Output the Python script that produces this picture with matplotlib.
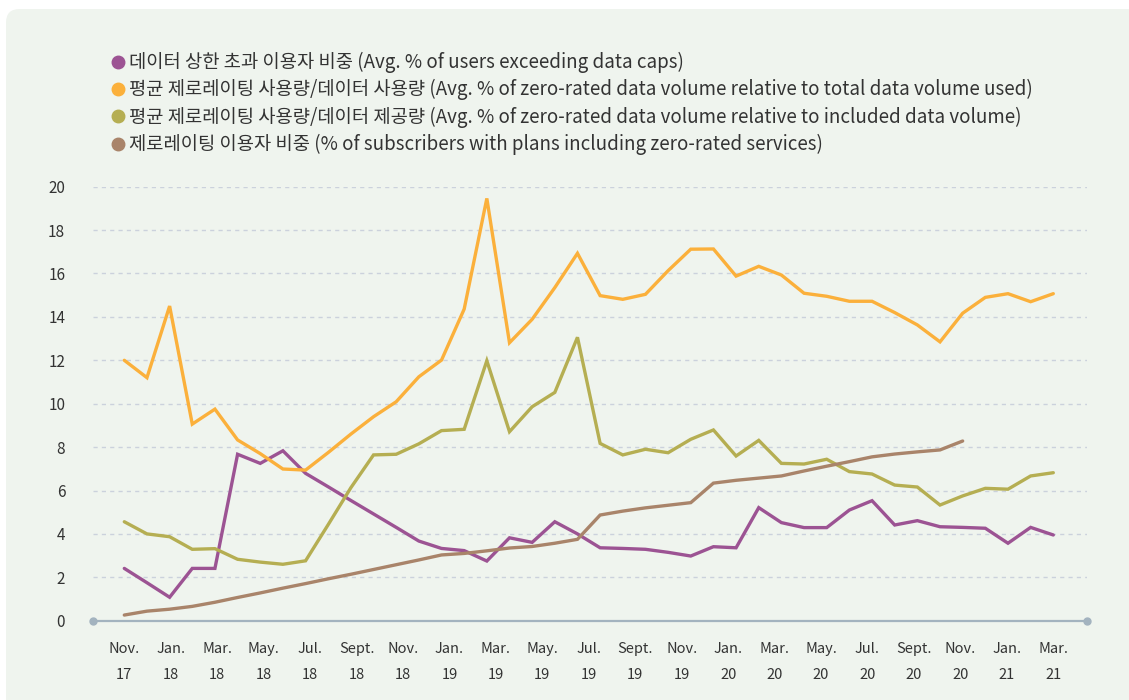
import numpy as np
import matplotlib
matplotlib.use("Agg")
import matplotlib.pyplot as plt
from matplotlib.lines import Line2D
from matplotlib.patches import FancyBboxPatch

# ---------------- data ----------------
x_labels = ["Nov.\n17", "Jan.\n18", "Mar.\n18", "May.\n18", "Jul.\n18", "Sept.\n18",
            "Nov.\n18", "Jan.\n19", "Mar.\n19", "May.\n19", "Jul.\n19", "Sept.\n19",
            "Nov.\n19", "Jan.\n20", "Mar.\n20", "May.\n20", "Jul.\n20", "Sept.\n20",
            "Nov.\n20", "Jan.\n21", "Mar.\n21"]

series_names = [
    "데이터 상한 초과 이용자 비중 (Avg. % of users exceeding data caps)",
    "평균 제로레이팅 사용량/데이터 사용량 (Avg. % of zero-rated data volume relative to total data volume used)",
    "평균 제로레이팅 사용량/데이터 제공량 (Avg. % of zero-rated data volume relative to included data volume)",
    "제로레이팅 이용자 비중 (% of subscribers with plans including zero-rated services)",
]

users_exceeding_caps = [2.41, 1.75, 1.08, 2.41, 2.41, 7.67, 7.25, 7.83, 6.79, 6.17,
                        5.54, 4.92, 4.30, 3.67, 3.33, 3.23, 2.75, 3.82, 3.61, 4.56,
                        4.00, 3.36, 3.33, 3.29, 3.15, 2.98, 3.41, 3.36, 5.21, 4.52,
                        4.29, 4.29, 5.10, 5.53, 4.41, 4.61, 4.33, 4.30, 4.26, 3.57,
                        4.30, 3.95]

zero_rated_vs_used = [12.0, 11.2, 14.5, 9.06, 9.75, 8.33, 7.7, 6.99, 6.94, 7.75,
                      8.6, 9.4, 10.09, 11.24, 12.01, 14.36, 19.46, 12.81, 13.89, 15.35,
                      16.93, 14.98, 14.81, 15.04, 16.13, 17.12, 17.13, 15.88, 16.33, 15.93,
                      15.09, 14.95, 14.72, 14.72, 14.2, 13.63, 12.85, 14.17, 14.9, 15.07,
                      14.7, 15.07]

zero_rated_vs_included = [4.56, 4.0, 3.87, 3.29, 3.32, 2.83, 2.70, 2.60, 2.76, 4.43,
                          6.13, 7.64, 7.67, 8.15, 8.76, 8.82, 11.98, 8.71, 9.86, 10.52,
                          13.06, 8.17, 7.64, 7.90, 7.74, 8.36, 8.79, 7.59, 8.31, 7.25,
                          7.22, 7.44, 6.87, 6.76, 6.25, 6.16, 5.33, 5.75, 6.10, 6.06,
                          6.67, 6.82]

zero_rated_subscribers = [0.26, 0.44, 0.53, 0.66, 0.85, 1.07, 1.28, 1.50, 1.71, 1.93,
                          2.14, 2.36, 2.58, 2.80, 3.03, 3.10, 3.22, 3.35, 3.42, 3.57,
                          3.75, 4.87, 5.05, 5.20, 5.32, 5.44, 6.34, 6.47, 6.57, 6.67,
                          6.90, 7.12, 7.33, 7.55, 7.68, 7.78, 7.87, 8.28]

y_ticks = [0, 2, 4, 6, 8, 10, 12, 14, 16, 18, 20]

colors = ["#9c5393", "#fbb03b", "#b5ae52", "#a9846a"]
panel_color = "#eff4ee"
text_color = "#333333"

plt.rcParams['font.family'] = ['Noto Sans CJK KR', 'DejaVu Sans']

# ---------------- figure ----------------
fig = plt.figure(figsize=(11.29, 7.0), dpi=100)
fig.patch.set_facecolor("white")
panel = FancyBboxPatch((6 / 1129, -0.05), 1.05, 1 - 9 / 700 + 0.05,
                       boxstyle="round,pad=0,rounding_size=0.012",
                       transform=fig.transFigure, facecolor=panel_color,
                       edgecolor="none", zorder=-10, mutation_aspect=1129 / 700)
fig.patches.append(panel)

ax = fig.add_axes([93 / 1129, 1 - 620.7 / 700, (1087 - 93) / 1129, (620.7 - 186.7) / 700])
ax.set_facecolor("none")
ax.set_zorder(1)

n = len(users_exceeding_caps)
x = np.arange(n)
step_px = 22.66
ax.set_xlim(-(124.3 - 93) / step_px, (n - 1) + (1087 - 1053.3) / step_px)
ax.set_ylim(0, 20)

for yv in y_ticks[1:]:
    ax.axhline(yv, color="#cbd1dc", lw=1.0, ls=(0, (3, 3)), zorder=1)

ax.plot([0, 1], [0, 0], transform=ax.get_yaxis_transform(), color="#a3b3bf",
        lw=1.6, marker="o", markersize=5, clip_on=False, zorder=2)

data = [users_exceeding_caps, zero_rated_vs_used, zero_rated_vs_included, zero_rated_subscribers]
for vals, c in zip(data, colors):
    ax.plot(x[:len(vals)], vals, color=c, lw=2.4, solid_joinstyle="miter",
            solid_capstyle="round", zorder=3, clip_on=False)

for s in ax.spines.values():
    s.set_visible(False)

ax.set_yticks(y_ticks)
ax.set_yticklabels([str(v) for v in y_ticks])
ax.set_xticks(np.linspace(0, n - 1, len(x_labels)))
ax.set_xticklabels(x_labels, linespacing=2.1)
ax.tick_params(axis="both", length=0, colors=text_color)
ax.tick_params(axis="y", labelsize=11, pad=20)
ax.tick_params(axis="x", labelsize=10.5, pad=15)

handles = [Line2D([], [], ls="none", marker="o", markersize=9, color=c) for c in colors]
leg = fig.legend(handles, series_names, loc="upper left",
                 bbox_to_anchor=(110 / 1129, 1 - 52 / 700),
                 frameon=False, fontsize=13.5, handlelength=0.8, handletextpad=0.2,
                 labelspacing=0.33, borderaxespad=0, borderpad=0)
for t in leg.get_texts():
    t.set_color(text_color)

fig.savefig("out.png", dpi=100, facecolor="white")
